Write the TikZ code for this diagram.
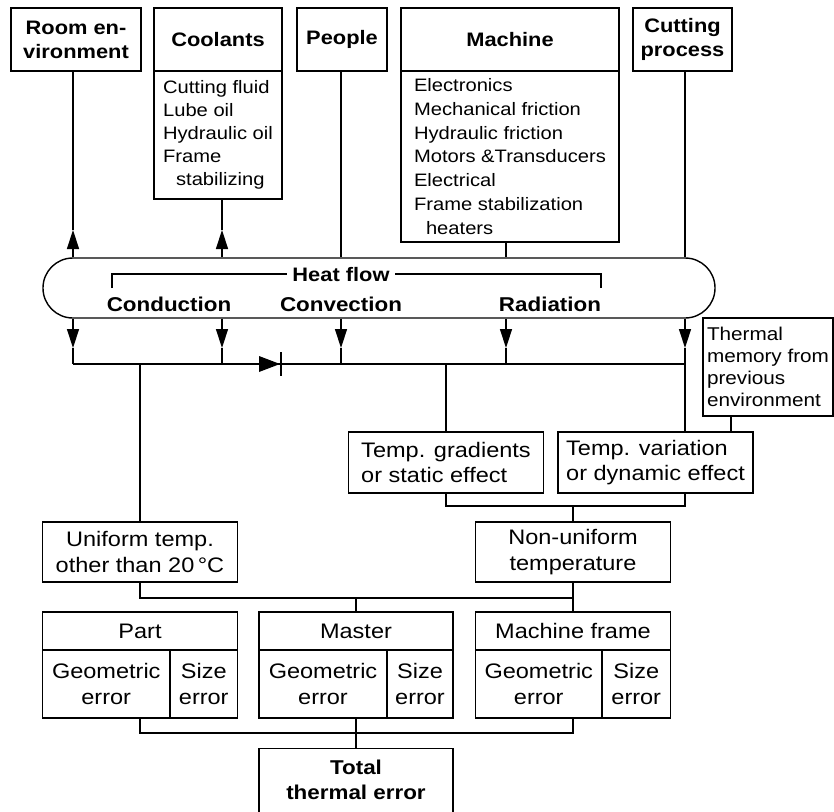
\documentclass[tikz,border=0pt]{standalone}
\usepackage{fontspec}
\setmainfont{Liberation Sans}[FakeStretch=1.12]
\usetikzlibrary{arrows.meta}
\begin{document}
\begin{tikzpicture}[x=1pt,y=-1pt,
  ln/.style={line width=1.4pt},
  box/.style={draw, line width=1.3pt, inner sep=0pt, align=center, font=\fontsize{21}{25.5}\selectfont},
  titlebox/.style={box, font=\fontsize{19.5}{24}\bfseries\selectfont},
  listbox/.style={box, align=left, font=\fontsize{18}{23}\selectfont},
  hflab/.style={inner sep=0pt, font=\fontsize{19.5}{24}\bfseries\selectfont},
  modelab/.style={inner sep=0pt, font=\fontsize{20}{24}\bfseries\selectfont},
  tiphead/.style={-{Triangle[length=19pt,width=12pt]}}]
\useasboundingbox (0,0) rectangle (834,811);
\clip (0,0) rectangle (834,811);

% top sources
\node[titlebox, minimum width=130pt, minimum height=63pt] (room) at (76,39.5) {Room en-\\vironment};
\node[titlebox, minimum width=128pt, minimum height=63pt] (cool) at (218,39.5) {Coolants};
\node[listbox, minimum width=128pt, minimum height=128pt] (coolb) at (218,135) {Cutting fluid\\Lube oil\\Hydraulic oil\\Frame\\\hspace*{13pt}stabilizing};
\node[titlebox, minimum width=90pt, minimum height=63pt] (people) at (342,39.5) {People};
\node[titlebox, minimum width=218pt, minimum height=63pt] (mach) at (510,39.5) {Machine};
\node[listbox, minimum width=218pt, minimum height=171pt, font=\fontsize{18}{23.8}\selectfont] (machb) at (510,156.5) {Electronics\\Mechanical friction\\Hydraulic friction\\Motors \&Transducers\\Electrical\\Frame stabilization\\\hspace*{12pt}heaters};
\node[titlebox, minimum width=99pt, minimum height=63pt] (cut) at (682.5,39.5) {Cutting\\process};

% heat flow capsule
\node[draw, ln, rounded corners=29.9pt, minimum width=672pt, minimum height=60pt, inner sep=0pt] (heat) at (379,288) {};
\node[hflab, anchor=base] (hflow) at (341,281) {Heat flow};
\coordinate (bl) at (112,288);
\coordinate (br) at (601,288);
\draw[ln] (bl) |- ([xshift=-5pt]hflow.west);
\draw[ln] (br) |- ([xshift=5pt]hflow.east);
\node[modelab, anchor=base] (cond) at (169,311) {Conduction};
\node[modelab, anchor=base] (conv) at (341,311) {Convection};
\node[modelab, anchor=base] (rad) at (550,311) {Radiation};

% up arrows into sinks
\coordinate (ua) at (73,230);
\coordinate (ub) at (222,230);
\draw[ln, tiphead] (heat.north -| ua) -- (ua);
\draw[ln] (ua) -- (room.south -| ua);
\draw[ln, tiphead] (heat.north -| ub) -- (ub);
\draw[ln] (ub) -- (coolb.south -| ub);

% sources into heat flow
\coordinate (xc) at (341,0);
\coordinate (xd) at (506,0);
\coordinate (xe) at (685,0);
\draw[ln] (people.south -| xc) -- (heat.north -| xc);
\draw[ln] (machb.south -| xd) -- (heat.north -| xd);
\draw[ln] (cut.south -| xe) -- (heat.north -| xe);

% down arrows
\coordinate (da) at (73,348);
\coordinate (db) at (222,348);
\coordinate (dc) at (341,348);
\coordinate (dd) at (506,348);
\coordinate (de) at (685,348);
\coordinate (ja) at (73,364);
\coordinate (je) at (685,364);
\foreach \p in {da,db,dc,dd,de}{
  \draw[ln, tiphead] (heat.south -| \p) -- (\p);
  \draw[ln] (\p) -- (\p |- ja);
}
\draw[ln] (ja) -- (je);
% diode symbol
\fill (259,356) -- (280,364) -- (259,372) -- cycle;
\draw[ln] (281,352) -- (281,376);

% middle boxes
\node[box, align=left, minimum width=195pt, minimum height=61pt] (grad) at (446,462.5) {Temp. gradients\\or static effect};
\node[box, align=left, minimum width=195pt, minimum height=61pt] (var) at (655.5,462.5) {Temp. variation\\or dynamic effect};
\node[box, align=left, minimum width=130pt, minimum height=98pt, font=\fontsize{18.5}{22}\selectfont] (therm) at (768,367) {Thermal\\memory from\\previous\\environment};
\node[box, minimum width=195pt, minimum height=60pt] (unif) at (140,552) {Uniform temp.\\other than 20\,°C};
\node[box, minimum width=195pt, minimum height=60pt] (nonu) at (573,552) {Non-uniform\\temperature};

\coordinate (jx) at (140,364);
\coordinate (jg) at (446,364);
\coordinate (xt) at (731,0);
\draw[ln] (jx) -- (unif.north);
\draw[ln] (jg) -- (grad.north);
\draw[ln] (de) -- (var.north -| de);
\draw[ln] (therm.south -| xt) -- (var.north -| xt);
\coordinate (g1) at (446,506);
\coordinate (g2) at (685,506);
\coordinate (g3) at (573,506);
\draw[ln] (grad.south) -- (g1) -- (g2) -- (var.south -| g2);
\draw[ln] (g3) -- (nonu.north);

% error boxes
\node[box, minimum width=195pt, minimum height=38pt] (part) at (140,631) {Part};
\node[box, minimum width=127.5pt, minimum height=68pt] (partg) at (106.25,684) {Geometric\\error};
\node[box, minimum width=67.5pt, minimum height=68pt] (parts) at (203.75,684) {Size\\error};
\node[box, minimum width=194pt, minimum height=38pt] (mas) at (356,631) {Master};
\node[box, minimum width=128pt, minimum height=68pt] (masg) at (323,684) {Geometric\\error};
\node[box, minimum width=66pt, minimum height=68pt] (mass) at (420,684) {Size\\error};
\node[box, minimum width=195pt, minimum height=38pt] (mf) at (573,631) {Machine frame};
\node[box, minimum width=126.5pt, minimum height=68pt] (mfg) at (538.75,684) {Geometric\\error};
\node[box, minimum width=68.5pt, minimum height=68pt] (mfs) at (636.25,684) {Size\\error};

\coordinate (k1) at (140,598);
\coordinate (k2) at (573,598);
\coordinate (k3) at (356,598);
\draw[ln] (unif.south) -- (k1) -- (k2);
\draw[ln] (k3) -- (mas.north);
\draw[ln] (nonu.south) -- (mf.north);

\coordinate (m1) at (140,733);
\coordinate (m2) at (573,733);
\coordinate (m3) at (356,733);
\draw[ln] (partg.south -| m1) -- (m1) -- (m2) -- (mfg.south -| m2);

\node[box, minimum width=194pt, minimum height=80pt, anchor=north] (total) at (356,748) {};
\node[modelab, align=center, font=\fontsize{20}{25}\bfseries\selectfont] (totaltxt) at (356,780) {Total\\thermal error};
\draw[ln] (masg.south -| m3) -- (total.north);
\end{tikzpicture}
\end{document}
